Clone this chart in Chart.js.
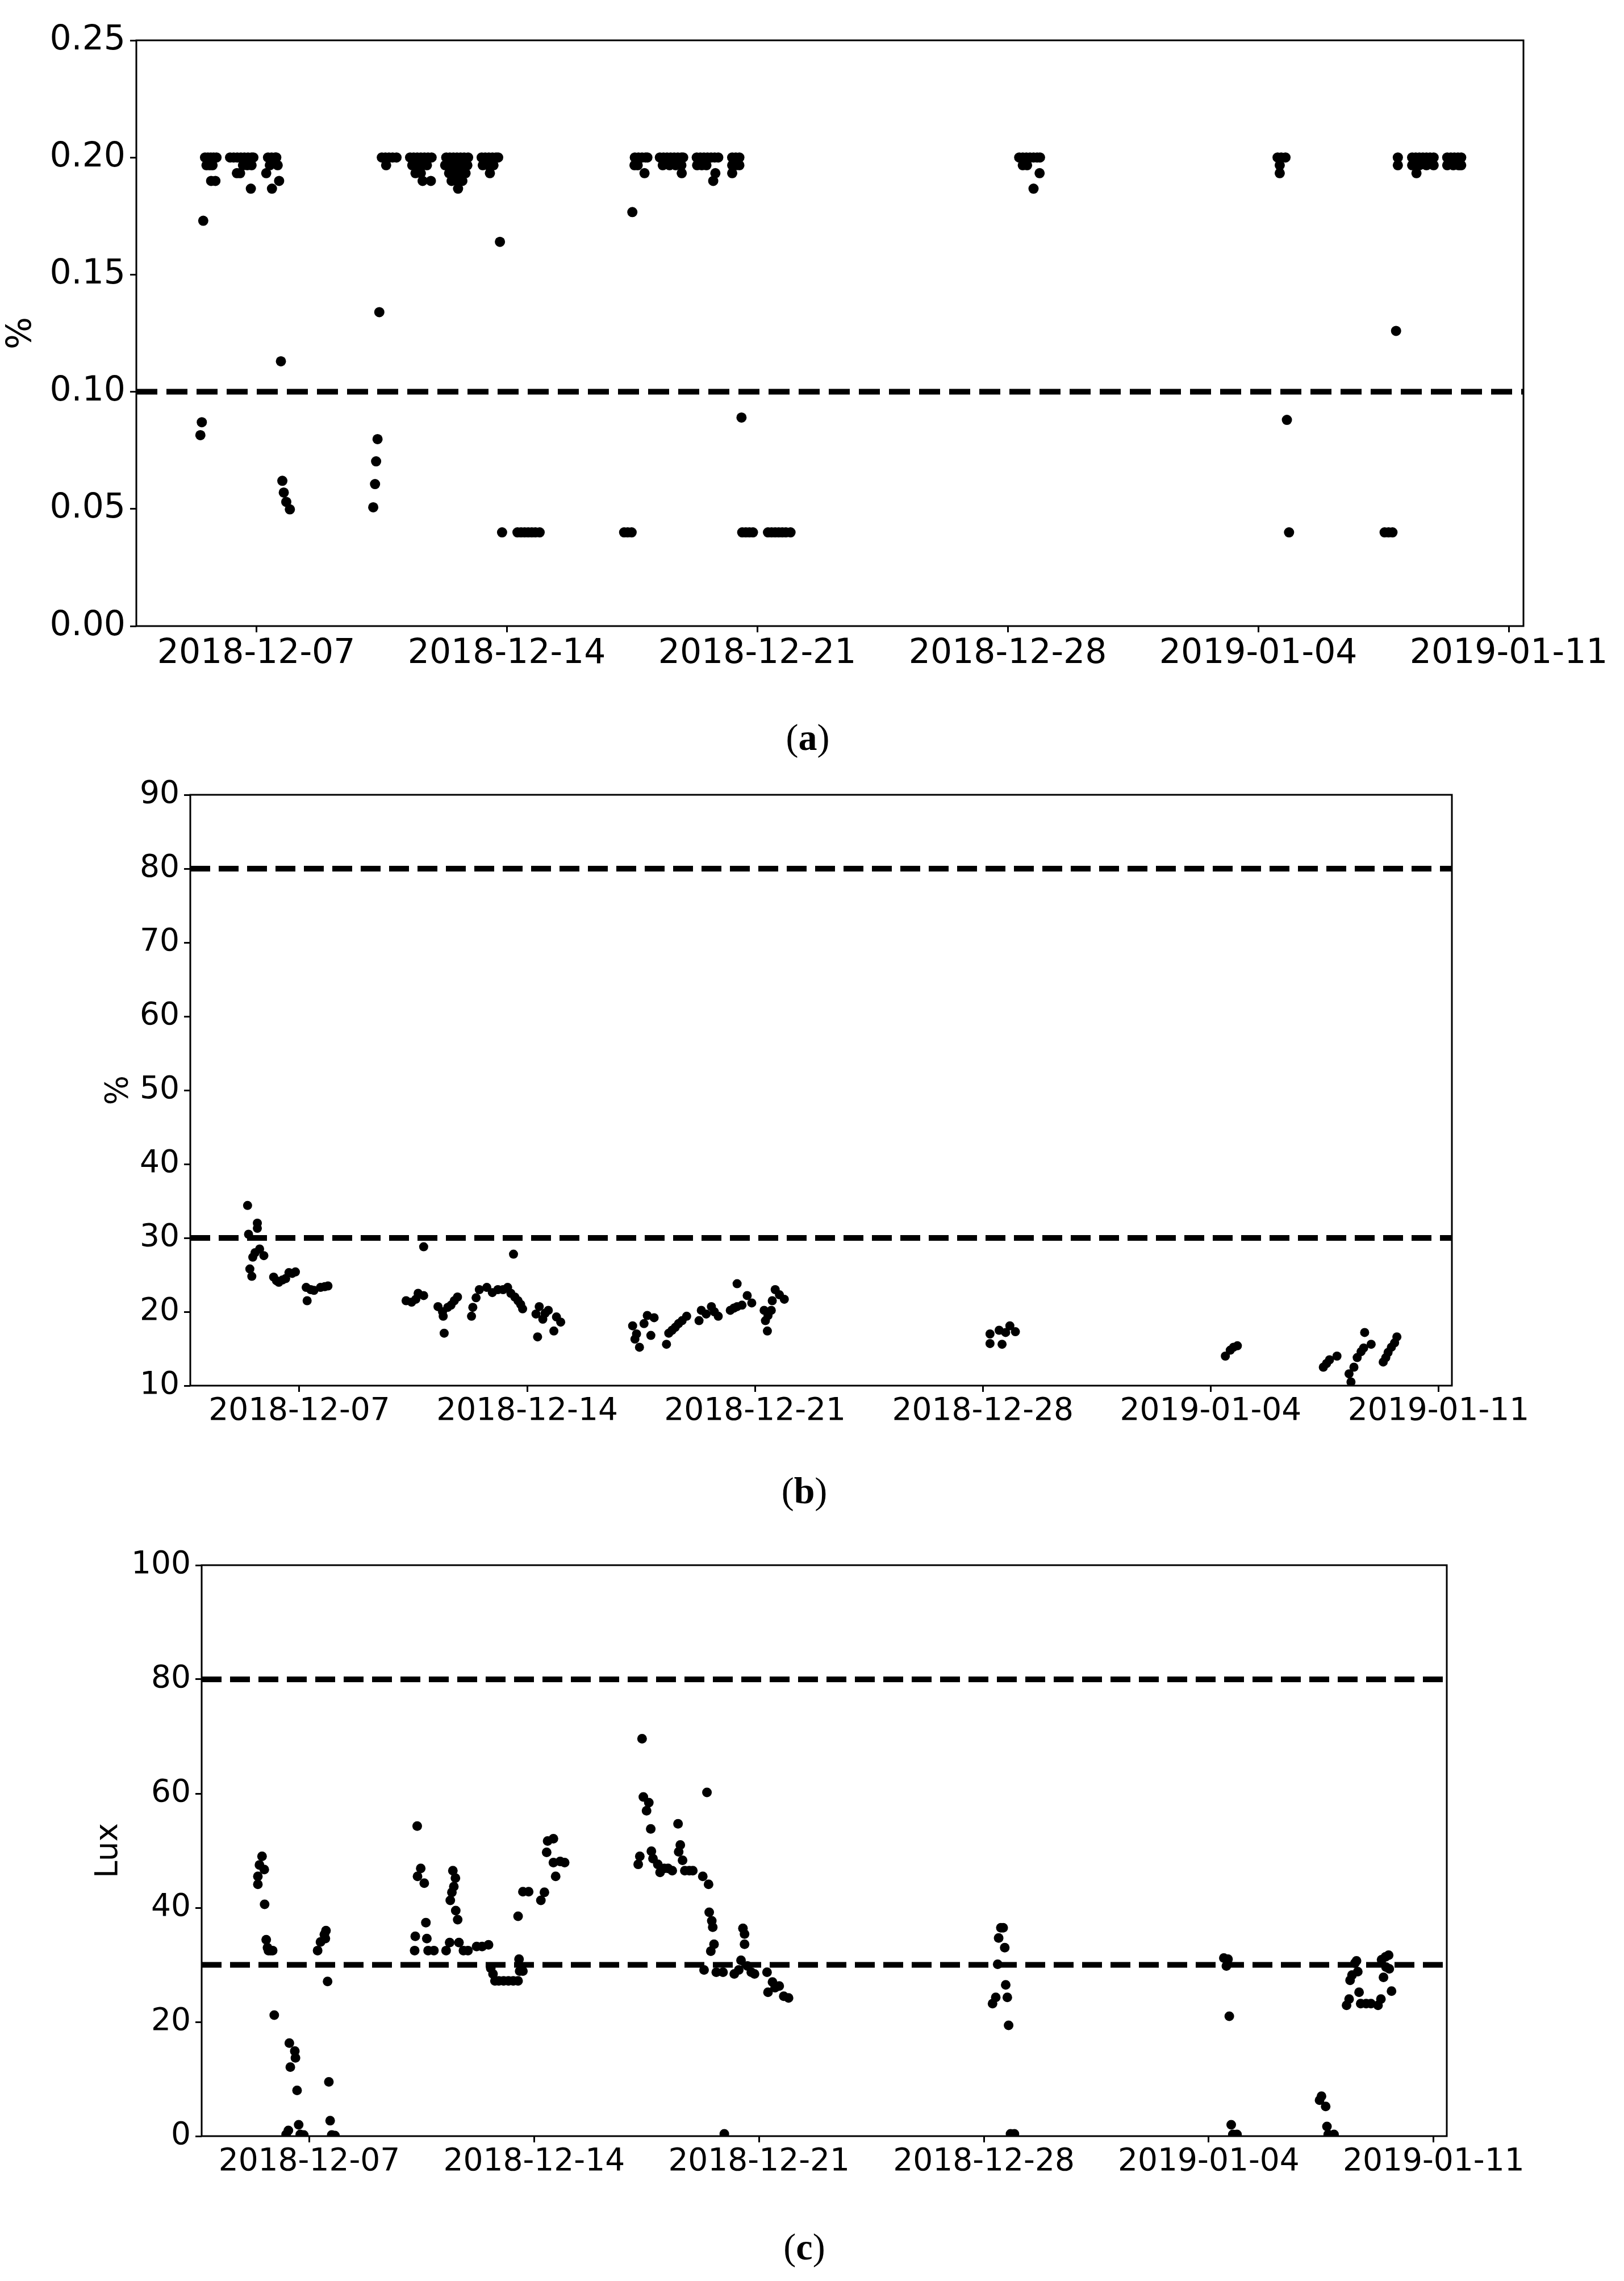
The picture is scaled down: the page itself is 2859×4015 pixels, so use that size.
<!DOCTYPE html>
<html>
<head>
<meta charset="utf-8">
<script src="https://cdn.jsdelivr.net/npm/chart.js@4.4.0/dist/chart.umd.min.js"></script>
<style>
  html, body { margin: 0; padding: 0; background: #fff; }
  body { position: relative; width: 2859px; height: 4015px; overflow: hidden; }
  canvas { position: absolute; left: 0; }
  .cap { position: absolute; transform: translate(-50%, -50%); font-family: "Liberation Serif", serif; font-size: 66px; line-height: 1; color: #000; white-space: nowrap; }
</style>
</head>
<body>
<canvas id="chartA" width="2859" height="1202" style="top:0px"></canvas>
<div class="cap" style="left:1422px; top:1298px">(<b>a</b>)</div>
<canvas id="chartB" width="2859" height="1210" style="top:1329px"></canvas>
<div class="cap" style="left:1416px; top:2624px">(<b>b</b>)</div>
<canvas id="chartC" width="2859" height="1175" style="top:2685px"></canvas>
<div class="cap" style="left:1416px; top:3955px">(<b>c</b>)</div>
<script>
// x values are days counted from 2018-12-07 00:00
const tickDays = [0, 7, 14, 21, 28, 35];
const tickLabels = ["2018-12-07", "2018-12-14", "2018-12-21", "2018-12-28", "2019-01-04", "2019-01-11"];
const dayMin = -3.35, dayMax = 35.41;

// panel (a): readings sit on a few discrete levels, plus some stray ones
const aLevels = [0.2, 0.1967, 0.1933, 0.19, 0.1867, 0.04];
const aDays200 = [-1.43, -1.35, -1.27, -1.19, -1.11, -0.73, -0.63, -0.53, -0.43, -0.33, -0.23, -0.13, -0.08,
  0.33, 0.43, 0.53, 0.56, 3.51, 3.61, 3.71, 3.81, 3.92, 4.30, 4.40, 4.50, 4.60, 4.70, 4.80, 4.90,
  5.31, 5.41, 5.51, 5.61, 5.71, 5.81, 5.92, 6.30, 6.40, 6.50, 6.60, 6.70, 6.76,
  10.58, 10.68, 10.78, 10.88, 10.93, 11.28, 11.38, 11.48, 11.58, 11.68, 11.78, 11.88, 11.93,
  12.31, 12.41, 12.51, 12.61, 12.71, 12.81, 12.91, 13.30, 13.40, 13.50,
  21.32, 21.42, 21.52, 21.62, 21.72, 21.82, 21.90, 28.54, 28.64, 28.76, 31.90,
  32.30, 32.40, 32.50, 32.60, 32.70, 32.80, 32.90, 33.28, 33.38, 33.48, 33.58, 33.67];
const aDays197 = [-1.39, -1.30, -1.22, -0.37, -0.25, -0.13, 0.38, 0.60, 3.63, 4.36, 4.50, 4.64, 4.77,
  5.28, 5.40, 5.52, 5.64, 5.76, 5.90, 6.33, 6.48, 6.63, 10.57, 10.66, 11.36, 11.55, 11.72, 11.88,
  12.32, 12.45, 12.58, 13.30, 13.40, 13.50, 21.42, 21.54, 28.60, 31.90, 32.30, 32.50, 32.70, 32.90,
  33.28, 33.45, 33.60, 33.67];
const aDays193 = [-0.54, -0.45, 0.28, 4.45, 4.60, 5.39, 5.55, 5.70, 5.85, 6.53, 10.85, 11.89, 12.83, 13.30, 21.89, 28.60, 32.42];
const aDays190 = [-1.26, -1.14, 0.64, 4.65, 4.88, 5.46, 5.60, 5.76, 12.77];
const aDays187 = [-0.15, 0.44, 5.64, 21.72];
const aDays040 = [6.87, 7.30, 7.40, 7.50, 7.60, 7.70, 7.80, 7.92, 10.28, 10.38, 10.49,
  13.58, 13.68, 13.78, 13.88, 14.30, 14.40, 14.50, 14.60, 14.70, 14.80, 14.93, 28.86, 31.53, 31.64, 31.75];
const aOddDays = [-1.48, -1.52, -1.56, 0.69, 0.73, 0.77, 0.84, 0.94, 3.44, 3.39, 3.35, 3.32, 3.27, 6.81, 10.51, 13.56, 28.80, 31.85];
const aOddVals = [0.173, 0.087, 0.0815, 0.113, 0.062, 0.057, 0.053, 0.0498, 0.134, 0.0798, 0.0703, 0.0606, 0.0507, 0.164, 0.1767, 0.089, 0.088, 0.126];
const aTicks = [0, 0.05, 0.10, 0.15, 0.20, 0.25];
const aThresholds = [0.1];

// panel (b)
const bDays = [-1.59, -1.56, -1.29, -1.29, -1.36, -1.22, -1.09, -1.43, -1.52, -1.46, -0.79, -0.70, -0.63, -0.52, -0.42,
  -0.32, -0.22, -0.12, 0.21, 0.24, 0.35, 0.45, 0.65, 0.78, 0.88, 3.28, 3.45, 3.58, 3.65, 3.82, 3.82, 4.26, 4.40,
  4.42, 4.45, 4.56, 4.66, 4.76, 4.86, 5.29, 5.33, 5.43, 5.53, 5.76, 5.93, 6.10, 6.26, 6.40, 6.50, 6.58, 6.62,
  6.72, 6.80, 6.86, 7.27, 7.32, 7.37, 7.48, 7.55, 7.65, 7.82, 7.90, 8.03, 10.24, 10.31, 10.36, 10.45, 10.59,
  10.69, 10.80, 10.90, 11.28, 11.35, 11.45, 11.55, 11.65, 11.76, 11.90, 12.28, 12.35, 12.50, 12.66, 12.75,
  12.87, 13.24, 13.35, 13.45, 13.45, 13.60, 13.76, 13.90, 14.28, 14.32, 14.38, 14.40, 14.50, 14.53, 14.62,
  14.75, 14.90, 21.22, 21.22, 21.50, 21.59, 21.70, 21.83, 22.00, 28.45, 28.60, 28.70, 28.82, 31.46, 31.56,
  31.65, 31.88, 32.25, 32.31, 32.40, 32.50, 32.62, 32.70, 32.73, 32.93, 33.30, 33.38, 33.45, 33.55, 33.65, 33.72];
const bValues = [34.4, 30.5, 32.0, 31.3, 28.0, 28.5, 27.6, 27.4, 25.8, 24.8, 24.7, 24.2, 24.0, 24.3, 24.5,
  25.3, 25.2, 25.4, 23.3, 21.5, 23.0, 22.9, 23.3, 23.4, 23.5, 21.5, 21.3, 21.7, 22.5, 22.2, 28.8, 20.7, 20.0,
  19.4, 17.1, 20.6, 20.9, 21.5, 22.0, 19.4, 20.6, 21.9, 23.0, 23.3, 22.6, 23.0, 23.0, 23.3, 22.5, 27.8, 22.0,
  21.5, 21.0, 20.4, 19.7, 16.6, 20.7, 19.0, 19.8, 20.2, 17.4, 19.3, 18.6, 18.1, 16.3, 17.0, 15.2, 18.4,
  19.5, 16.8, 19.2, 15.6, 17.1, 17.5, 17.9, 18.4, 18.8, 19.4, 18.8, 20.2, 19.7, 20.7, 20.0,
  19.4, 20.2, 20.5, 20.7, 23.8, 20.9, 22.2, 21.2, 20.2, 18.8, 17.4, 19.5, 20.2, 21.5, 23.0,
  22.3, 21.7, 15.7, 17.0, 17.5, 15.6, 17.2, 18.1, 17.3, 14.0, 14.8, 15.2, 15.4, 12.5, 13.0,
  13.5, 14.0, 11.6, 10.5, 12.5, 13.8, 14.6, 15.1, 17.2, 15.6, 13.2, 13.8, 14.5, 15.2, 15.8, 16.6];
const bTicks = [10, 20, 30, 40, 50, 60, 70, 80, 90];
const bThresholds = [30, 80];

// panel (c)
const cDays = [-1.60, -1.60, -1.55, -1.47, -1.40, -1.39, -1.34, -1.30, -1.27, -1.20, -1.14, -1.09, -0.72, -0.65,
  -0.62, -0.59, -0.45, -0.43, -0.38, -0.33, -0.28, -0.17, 0.26, 0.35, 0.47, 0.50, 0.52, 0.57, 0.61, 0.65, 0.70, 0.80,
  3.28, 3.30, 3.36, 3.37, 3.47, 3.58, 3.63, 3.66, 3.70, 3.88, 4.26, 4.37, 4.39, 4.44, 4.47, 4.50, 4.55, 4.56,
  4.62, 4.66, 4.80, 4.94, 5.21, 5.38, 5.58, 5.65, 5.72, 5.78, 5.90, 6.05, 6.20, 6.35, 6.50, 6.53, 6.55, 6.65,
  6.50, 6.65, 6.83, 7.21, 7.32, 7.39, 7.42, 7.60, 7.60, 7.67, 7.81, 7.95,
  10.24, 10.29, 10.36, 10.40, 10.50, 10.57, 10.63, 10.65, 10.70, 10.85, 10.92, 11.05, 11.17, 11.30, 11.48,
  11.50, 11.55, 11.62, 11.69, 11.83, 11.94, 12.25, 12.29, 12.38, 12.43, 12.45, 12.50, 12.53, 12.56, 12.60,
  12.67, 12.88, 12.92, 13.23, 13.37, 13.44, 13.50, 13.55, 13.55, 13.64, 13.76, 13.86, 14.25, 14.28, 14.42,
  14.50, 14.63, 14.77, 14.92, 21.27, 21.37, 21.43, 21.46, 21.53, 21.60, 21.65, 21.68, 21.73, 21.77, 21.83,
  21.95, 28.47, 28.55, 28.60, 28.64, 28.70, 28.75, 28.88, 31.45, 31.51, 31.64, 31.68, 31.72, 31.90,
  32.29, 32.37, 32.40, 32.46, 32.55, 32.60, 32.64, 32.68, 32.73, 32.90, 33.05, 33.27, 33.36, 33.38, 33.44,
  33.50, 33.52, 33.60, 33.62, 33.69];
const cValues = [45.5, 44.1, 47.5, 49.0, 46.7, 40.6, 34.4, 33.0, 32.5, 32.5, 32.5, 21.2, 0.3, 1.0,
  16.3, 12.1, 14.9, 13.7, 8.0, 2.0, 0.3, 0.2, 32.5, 34.0, 35.3, 34.6, 36.0, 27.1, 9.5, 2.7, 0.2, 0.1,
  32.5, 35.0, 54.3, 45.5, 46.9, 44.3, 37.4, 34.6, 32.5, 32.5, 32.5, 33.9, 41.3, 42.7, 46.5, 43.7, 45.2, 39.5,
  37.9, 33.9, 32.5, 32.5, 33.2, 33.2, 33.5, 29.4, 28.4, 27.2, 27.2, 27.2, 27.2, 27.2, 27.2, 31.0, 28.9, 28.9,
  38.5, 42.8, 42.8, 41.3, 42.7, 49.7, 51.7, 52.1, 47.9, 45.5, 48.1, 47.9,
  47.6, 49.0, 69.6, 59.4, 57.0, 58.4, 53.8, 49.9, 48.6, 47.6, 46.2, 46.9, 46.9, 46.5, 54.7,
  49.8, 51.0, 48.3, 46.5, 46.5, 46.5, 45.5, 29.1, 60.2, 44.1, 39.2, 32.4, 37.7, 36.6, 33.6,
  28.7, 28.7, 0.4, 28.4, 29.1, 30.8, 36.4, 35.4, 33.6, 29.8, 28.7, 28.4, 28.7, 25.2, 27.0,
  26.0, 26.3, 24.5, 24.2, 23.2, 24.3, 30.1, 34.7, 36.5, 36.5, 33.0, 26.5, 24.3, 19.4, 0.4,
  0.4, 31.2, 29.8, 31.0, 21.0, 2.0, 0.3, 0.3, 6.3, 7.0, 5.2, 1.7, 0.3, 0.3,
  22.9, 24.0, 27.3, 28.2, 30.3, 30.7, 28.8, 25.2, 23.2, 23.2, 23.2, 22.9, 24.0, 30.9, 27.8,
  31.4, 29.6, 31.7, 29.3, 25.4];
const cTicks = [0, 20, 40, 60, 80, 100];
const cThresholds = [30, 80];

function pairs(days, vals) { return days.map((d, i) => ({ x: d, y: vals[i] })); }
function onLevel(days, v) { return days.map(d => ({ x: d, y: v })); }

const aPoints = [].concat(
  onLevel(aDays200, aLevels[0]), onLevel(aDays197, aLevels[1]), onLevel(aDays193, aLevels[2]),
  onLevel(aDays190, aLevels[3]), onLevel(aDays187, aLevels[4]), onLevel(aDays040, aLevels[5]),
  pairs(aOddDays, aOddVals));

// matplotlib-like box around the plot area
const frame = {
  id: 'frame',
  afterDatasetsDraw(chart) {
    const { ctx, chartArea: a } = chart;
    ctx.save();
    ctx.strokeStyle = '#000';
    ctx.lineWidth = 3;
    ctx.strokeRect(a.left, a.top, a.right - a.left, a.bottom - a.top);
    ctx.restore();
  }
};

function drawPanel(id, p) {
  const sets = [{
    data: p.points, pointRadius: p.dot, pointBackgroundColor: '#000',
    pointBorderWidth: 0, pointHoverRadius: p.dot, clip: 0
  }];
  p.thresholds.forEach(t => sets.push({
    data: [{ x: dayMin, y: t }, { x: dayMax, y: t }], showLine: true,
    borderColor: '#000', borderWidth: p.lw, borderDash: p.dash, pointRadius: 0, clip: 0
  }));
  const font = { family: 'DejaVu Sans', size: p.font };
  new Chart(document.getElementById(id), {
    type: 'scatter',
    data: { datasets: sets },
    options: {
      responsive: false,
      animation: false,
      events: [],
      layout: { padding: { top: p.padTop, right: 2859 - p.right, left: 0, bottom: 0 } },
      plugins: { legend: { display: false }, tooltip: { enabled: false } },
      scales: {
        x: {
          type: 'linear', min: dayMin, max: dayMax,
          afterBuildTicks: s => { s.ticks = tickDays.map(v => ({ value: v })); },
          afterFit: s => { s.height = 100; },
          ticks: { callback: (v, i) => tickLabels[i], color: '#000', font: font, padding: 2, maxRotation: 0, autoSkip: false },
          grid: { drawOnChartArea: false, tickLength: 11, tickWidth: 3, tickColor: '#000' },
          border: { display: false }
        },
        y: {
          min: p.yTicks[0], max: p.yTicks[p.yTicks.length - 1],
          afterBuildTicks: s => { s.ticks = p.yTicks.map(v => ({ value: v })); },
          afterFit: s => { s.width = p.left; },
          ticks: { callback: p.fmt, color: '#000', font: font, padding: 8 },
          grid: { drawOnChartArea: false, tickLength: 11, tickWidth: 3, tickColor: '#000' },
          border: { display: false },
          title: { display: true, text: p.title, color: '#000', font: font, padding: { top: p.titlePad, bottom: 0 } }
        }
      }
    },
    plugins: [frame]
  });
}

drawPanel('chartA', {
  points: aPoints, thresholds: aThresholds, yTicks: aTicks, fmt: v => v.toFixed(2),
  left: 240, right: 2682, padTop: 71, font: 60, dot: 9, lw: 10, dash: [37, 16],
  title: '%', titlePad: 2
});
drawPanel('chartB', {
  points: pairs(bDays, bValues), thresholds: bThresholds, yTicks: bTicks, fmt: v => String(v),
  left: 335, right: 2556, padTop: 70, font: 55, dot: 8, lw: 10, dash: [35, 15],
  title: '%', titlePad: 177
});
drawPanel('chartC', {
  points: pairs(cDays, cValues), thresholds: cThresholds, yTicks: cTicks, fmt: v => String(v),
  left: 355, right: 2547, padTop: 70, font: 55, dot: 8.5, lw: 10, dash: [35, 15],
  title: 'Lux', titlePad: 159
});
</script>
</body>
</html>
